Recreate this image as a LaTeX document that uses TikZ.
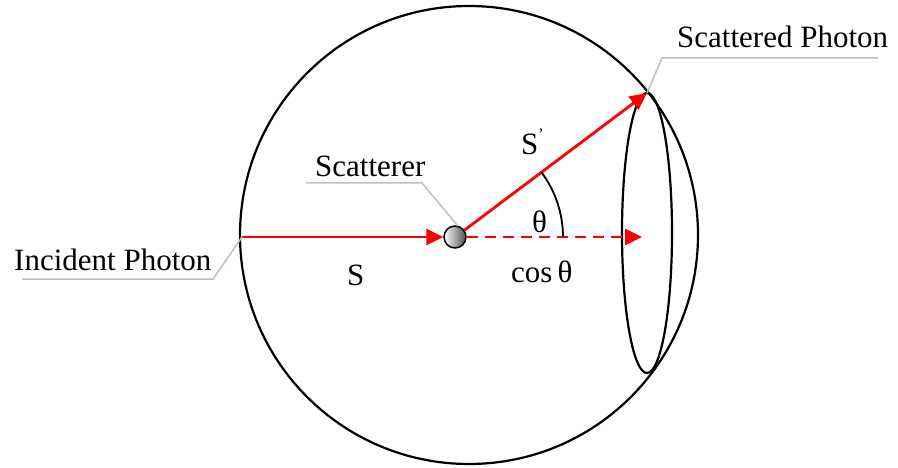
\documentclass[tikz,border=0pt]{standalone}
\usepackage{fontspec}
\setmainfont{Liberation Serif}
\usetikzlibrary{arrows.meta}
\begin{document}
\begin{tikzpicture}[x=1pt,y=-1pt,
  lbl/.style={inner sep=0pt, anchor=base west, font=\fontsize{31}{36}\selectfont},
  leader/.style={draw=black!25, line width=1.5pt},
  ray/.style={draw=red, line width=2.8pt, -{Triangle[length=17pt,width=16pt]}},
  outline/.style={draw=black, line width=2.2pt}]
\useasboundingbox (0,0) rectangle (898,468);
% big sphere
\node[circle, outline, minimum size=458pt, inner sep=0pt] (sphere) at (469,235) {};
% cone base ellipse
\draw[outline] (647,233) ellipse [x radius=25, y radius=140];
% coordinates
\coordinate (inc) at (242,237);
\coordinate (sc) at (647,93);
\coordinate (proj) at (642,237);
% scatterer
\node[circle, draw=black, line width=1.5pt, minimum size=22pt, inner sep=0pt,
      left color=white, right color=black!70] (scat) at (455,237) {};
% rays
\draw[ray] (inc) -- (scat.west);
\draw[ray] (scat.36.87) -- (sc);
\draw[ray, dash pattern=on 11pt off 7pt] (scat.east) -- (proj);
% angle arc
\draw[line width=1.8pt] (scat.center) ++(-36.87:108) arc[start angle=-36.87, end angle=0, radius=108];
% labels
\node[lbl] (tsp) at (677,48) {Scattered Photon};
\node[lbl] (tip) at (14,270) {Incident Photon};
\node[lbl] (tsc) at (315,177) {Scatterer};
\node[lbl] (ts) at (347,285) {S};
\node[lbl] (tsprime) at (521,155) {S{\fontsize{16}{16}\selectfont\raisebox{15pt}{’}}};
\node[lbl] (tth) at (532,233) {θ};
\node[lbl] (tcos) at (511,282) {cos\,θ};
% leaders
\draw[leader] (sc) -- (662,58) -- (878,58);
\draw[leader] (inc) -- (213,279) -- (22,279);
\draw[leader] (458,226) -- (422,183) -- (306,183);
\end{tikzpicture}
\end{document}
